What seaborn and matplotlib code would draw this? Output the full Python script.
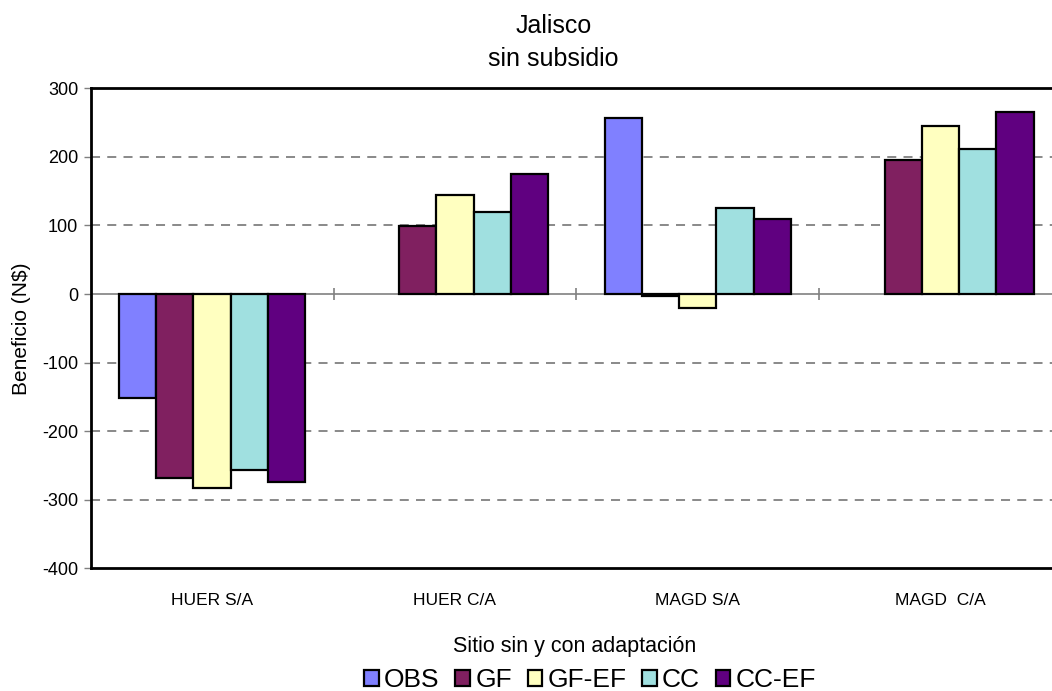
import numpy as np
import pandas as pd
import matplotlib
matplotlib.use("Agg")
import matplotlib.pyplot as plt
import seaborn as sns

# Benefit (N$) per site, without (S/A) and with (C/A) adaptation
sitios = ["HUER S/A", "HUER C/A", "MAGD S/A", "MAGD  C/A"]
series = ["OBS", "GF", "GF-EF", "CC", "CC-EF"]
obs = [-152, np.nan, 256, np.nan]
gf = [-268, 99, -3, 195]
gf_ef = [-283, 145, -20, 245]
cc = [-257, 119, 125, 212]
cc_ef = [-274, 175, 110, 265]
colores = ["#8080FF", "#802060", "#FFFFC0", "#A0E0E0", "#600080"]
yticks = [-400, -300, -200, -100, 0, 100, 200, 300]

valores = {"OBS": obs, "GF": gf, "GF-EF": gf_ef, "CC": cc, "CC-EF": cc_ef}
df = pd.DataFrame(
    [(s, serie, v) for serie in series for s, v in zip(sitios, valores[serie])],
    columns=["sitio", "serie", "beneficio"],
).dropna()

sns.set_theme(style="white")
plt.rcParams["font.family"] = ["Liberation Sans", "DejaVu Sans"]
plt.rcParams["text.color"] = "black"
plt.rcParams["axes.labelcolor"] = "black"
plt.rcParams["xtick.color"] = "black"
plt.rcParams["ytick.color"] = "black"

fig = plt.figure(figsize=(10.52, 6.91), dpi=100)
ax = fig.add_axes([0.0862, 0.1776, 0.9233, 0.6946])

sns.barplot(
    data=df, x="sitio", y="beneficio", hue="serie",
    order=sitios, hue_order=series, palette=colores, saturation=1,
    width=0.766, gap=0, edgecolor="black", linewidth=1.6,
    errorbar=None, ax=ax, zorder=3,
)

ax.set_ylim(yticks[0], yticks[-1])
ax.set_xlim(-0.5, len(sitios) - 0.5)
ax.set_yticks(yticks)
ax.set_yticklabels([str(t) for t in yticks], fontsize=13, color="black")
ax.tick_params(axis="y", direction="out", length=5, width=1, color="#808080",
               left=True, pad=4)
ax.tick_params(axis="x", length=0, pad=18, labelsize=12.5, labelcolor="black")

# dashed horizontal gridlines
for t in yticks[1:-1]:
    if t != 0:
        ax.axhline(t, color="#808080", lw=1.3, ls=(0, (5, 4)), zorder=1)
# category axis at zero with cross tick marks between groups
ax.axhline(0, color="#808080", lw=1.2, zorder=2)
limites = np.arange(len(sitios) - 1) + 0.5
ax.plot(limites, np.zeros_like(limites), ls="none", marker="|",
        markersize=9, mew=1.2, color="#808080", zorder=2)

for side in ["top", "left", "bottom", "right"]:
    ax.spines[side].set_color("black")
    ax.spines[side].set_linewidth(2)

ax.set_xlabel("")
ax.set_ylabel("Beneficio (N$)", fontsize=15, labelpad=8, color="black")

fig.text(0.526, 0.962, "Jalisco", ha="center", va="center", fontsize=18,
         color="black")
fig.text(0.526, 0.915, "sin subsidio", ha="center", va="center", fontsize=18,
         color="black")
fig.text(0.546, 0.0564, "Sitio sin y con adaptación", ha="center",
         va="baseline", fontsize=15.5, color="black")

handles, labels = ax.get_legend_handles_labels()
if ax.get_legend() is not None:
    ax.get_legend().remove()
leg = fig.legend(handles, labels, loc="center", bbox_to_anchor=(0.561, 0.016),
                 ncol=5, frameon=False, fontsize=19, handlelength=0.55,
                 handleheight=0.55, handletextpad=0.2, columnspacing=0.6,
                 borderpad=0)
for txt in leg.get_texts():
    txt.set_color("black")

fig.savefig("out.png", dpi=100)
